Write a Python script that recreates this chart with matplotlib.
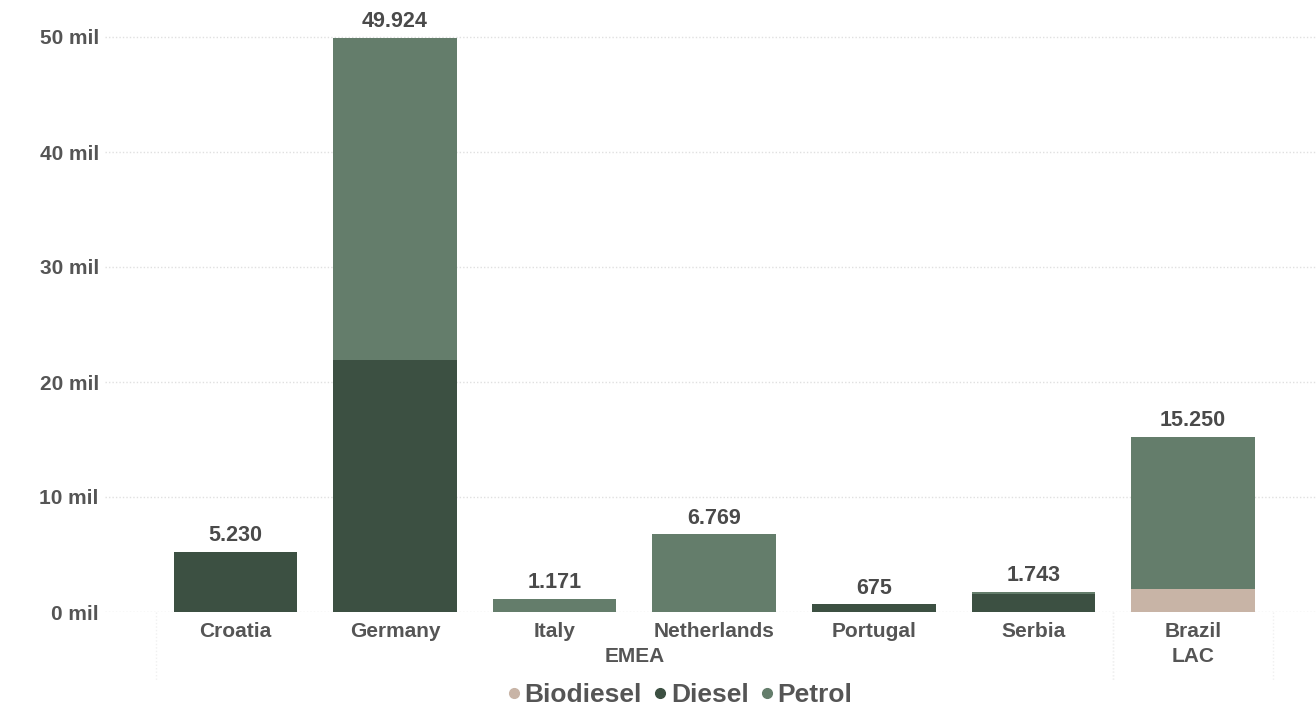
import matplotlib
matplotlib.use("Agg")
import matplotlib.pyplot as plt
import matplotlib.transforms as mtransforms
from matplotlib.lines import Line2D
from matplotlib.ticker import FuncFormatter

# Fuel volumes per country (units)
countries = ["Croatia", "Germany", "Italy", "Netherlands", "Portugal", "Serbia", "Brazil"]
regions = ["EMEA", "EMEA", "EMEA", "EMEA", "EMEA", "EMEA", "LAC"]
biodiesel = [0, 0, 0, 0, 0, 0, 2000]
diesel = [5230, 21900, 0, 0, 675, 1550, 0]
petrol = [0, 28024, 1171, 6769, 0, 193, 13250]
totals = [5230, 49924, 1171, 6769, 675, 1743, 15250]
series_names = ["Biodiesel", "Diesel", "Petrol"]
y_ticks = [0, 10000, 20000, 30000, 40000, 50000]

colors = {"Biodiesel": "#c8b4a6", "Diesel": "#3c5042", "Petrol": "#647d6b"}
text_color = "#555555"
plt.rcParams["font.family"] = ["Liberation Sans", "DejaVu Sans"]

W, H = 1316, 708
fig = plt.figure(figsize=(W / 100, H / 100), dpi=100)
ax = fig.add_axes([105 / W, (H - 612) / H, (W - 105) / W, 598 / H])

x = list(range(len(countries)))
bw = 0.775
bottom = [0] * len(x)
for name, vals in zip(series_names, [biodiesel, diesel, petrol]):
    ax.bar(x, vals, width=bw, bottom=bottom, color=colors[name], linewidth=0, zorder=3)
    bottom = [b + v for b, v in zip(bottom, vals)]

for xi, t in zip(x, totals):
    ax.annotate(f"{t:,}".replace(",", "."), (xi, t), xytext=(0, 4),
                textcoords="offset points", ha="center", va="bottom",
                fontsize=15.5, fontweight="bold", color="#4a4a4a")

ax.set_ylim(0, 52000)
ax.set_xlim(-0.817, 6.77)
ax.set_yticks(y_ticks)
ax.yaxis.set_major_formatter(FuncFormatter(lambda v, p: f"{v / 1000:.0f} mil"))
ax.grid(axis="y", color="#e0e0e0", linestyle=(0, (1, 1.5)), linewidth=1, zorder=0)
ax.set_xticks(x)
ax.set_xticklabels(countries)
ax.tick_params(axis="both", length=0, labelcolor=text_color, labelsize=15)
ax.tick_params(axis="y", pad=4.5)
ax.tick_params(axis="x", pad=7)
for lab in ax.get_xticklabels() + ax.get_yticklabels():
    lab.set_fontweight("bold")
for s in ax.spines.values():
    s.set_visible(False)

# region names under the country labels
trans = mtransforms.blended_transform_factory(ax.transData, ax.transAxes)
region_groups = {}
for xi, r in zip(x, regions):
    region_groups.setdefault(r, []).append(xi)
for r, xs in region_groups.items():
    xc = (min(xs) + max(xs)) / 2
    ax.text(xc, -0.075, r, transform=trans, ha="center", va="center",
            fontsize=15, fontweight="bold", color=text_color)
    # faint group separators
    for edge in (min(xs) - 0.5, max(xs) + 0.5):
        ax.plot([edge, edge], [0, -0.115], transform=trans, color="#f0f0f0",
                linestyle=(0, (1, 1.5)), linewidth=1, clip_on=False, zorder=0)

handles = [Line2D([], [], marker="o", linestyle="", markersize=7,
                  markerfacecolor=colors[n], markeredgecolor=colors[n]) for n in series_names]
fig.legend(handles, series_names, loc="center", bbox_to_anchor=(678 / W, 1 - 695 / H),
           ncol=3, frameon=False, handletextpad=0.0, columnspacing=0.3,
           handlelength=0.8, prop={"size": 19, "weight": "bold"}, labelcolor=text_color)

fig.savefig("out.png", dpi=100, facecolor="white")
